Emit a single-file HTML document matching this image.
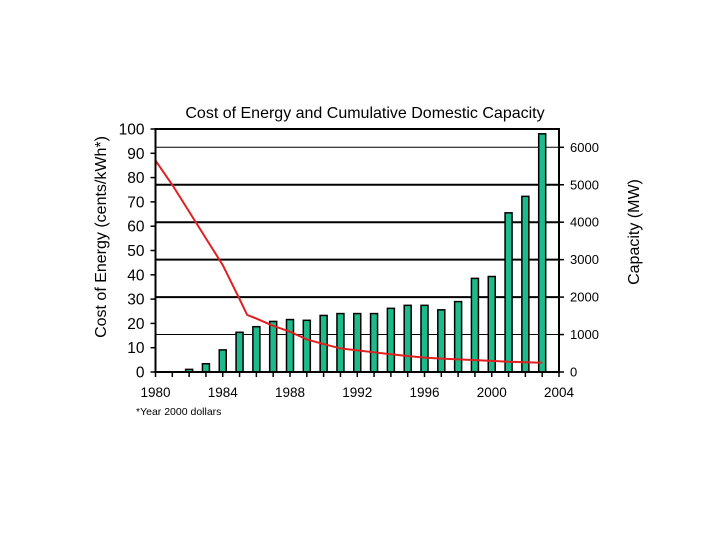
<!DOCTYPE html>
<html><head><meta charset="utf-8"><style>
body{margin:0;background:#fff;width:720px;height:540px;overflow:hidden}
text{font-family:"Liberation Sans",Arial,sans-serif;fill:#000}
</style></head><body>
<svg id="chart" width="720" height="540" viewBox="0 0 720 540" xmlns="http://www.w3.org/2000/svg">
<text x="365" y="118" text-anchor="middle" font-size="16">Cost of Energy and Cumulative Domestic Capacity</text>
<text transform="translate(106,237) rotate(-90)" text-anchor="middle" font-size="16">Cost of Energy (cents/kWh*)</text>
<text transform="translate(639,232) rotate(-90)" text-anchor="middle" font-size="16">Capacity (MW)</text>
<text x="136" y="415" font-size="10.5">*Year 2000 dollars</text>
<g id="grid"></g><g id="bars"></g><g id="line"></g><g id="axes"></g>
</svg>
<script>
const years=[1982,1983,1984,1985,1986,1987,1988,1989,1990,1991,1992,1993,1994,1995,1996,1997,1998,1999,2000,2001,2002,2003];
const capacity=[70,220,590,1060,1210,1350,1400,1380,1510,1560,1560,1560,1700,1780,1780,1660,1880,2500,2550,4250,4690,6360];
const costYears=[1980,1981,1982,1983,1984,1985,1985.45,1986,1987,1988,1989,1990,1991,1992,1993,1994,1995,1996,1997,1998,1999,2000,2001,2002,2003];
const cost=[87,77,66,55,44,30,23.5,22,19,16.6,13.4,11.5,9.7,8.9,8.1,7.3,6.6,5.9,5.5,5.2,4.9,4.6,4.2,4,3.8];
const leftTicks=[0,10,20,30,40,50,60,70,80,90,100];
const rightTicks=[0,1000,2000,3000,4000,5000,6000];
const xLabels=[1980,1984,1988,1992,1996,2000,2004];
const NS="http://www.w3.org/2000/svg";
const X0=155.5,X1=559,Y0=372,YT=129;
const x=y=>X0+(y-1980)*(X1-X0)/24;
const yL=v=>Y0-v*(Y0-YT)/100;
const yR=v=>Y0-v*(Y0-147.3)/6000;
function mk(tag,attrs,parent){const e=document.createElementNS(NS,tag);for(const k in attrs)e.setAttribute(k,attrs[k]);document.getElementById(parent).appendChild(e);return e;}
rightTicks.forEach(v=>{if(v===0)return;
 const thick=(v>=2000&&v<=5000);
 const g=mk('line',{x1:X0,x2:X1,y1:yR(v),y2:yR(v),stroke:'#000','stroke-width':thick?2:1},'grid');
 
 
});
years.forEach((yr,i)=>{
 const b=mk('rect',{x:x(yr)-3.5,y:yR(capacity[i]),width:7,height:Y0-yR(capacity[i]),fill:'#1dbb8b',stroke:'#000','stroke-width':1.5},'bars');
 
 
});
const pl=mk('polyline',{points:costYears.map((yr,i)=>x(yr)+','+yL(cost[i])).join(' '),fill:'none',stroke:'#e02020','stroke-width':2},'line');


const fr=mk('rect',{x:X0,y:YT,width:X1-X0,height:Y0-YT,fill:'none',stroke:'#000','stroke-width':2},'axes');


leftTicks.forEach(v=>{
 mk('line',{x1:X0-5,x2:X0,y1:yL(v),y2:yL(v),stroke:'#000','stroke-width':1.5},'axes');
 const t=mk('text',{x:X0-11,y:yL(v)+5.5,'text-anchor':'end','font-size':15.5},'axes');t.textContent=v;
 
 
});
rightTicks.forEach(v=>{
 mk('line',{x1:X1,x2:X1+5,y1:yR(v),y2:yR(v),stroke:'#000','stroke-width':1.5},'axes');
 const t=mk('text',{x:X1+11,y:yR(v)+4.5,'font-size':13},'axes');t.textContent=v;
 
 
});
for(let yr=1980;yr<=2004;yr++)mk('line',{x1:x(yr),x2:x(yr),y1:Y0,y2:Y0+5,stroke:'#000','stroke-width':1.5},'axes');
xLabels.forEach(v=>{
 const t=mk('text',{x:x(v),y:397,'text-anchor':'middle','font-size':13.5},'axes');t.textContent=v;
 
 
});
</script>
</body></html>
